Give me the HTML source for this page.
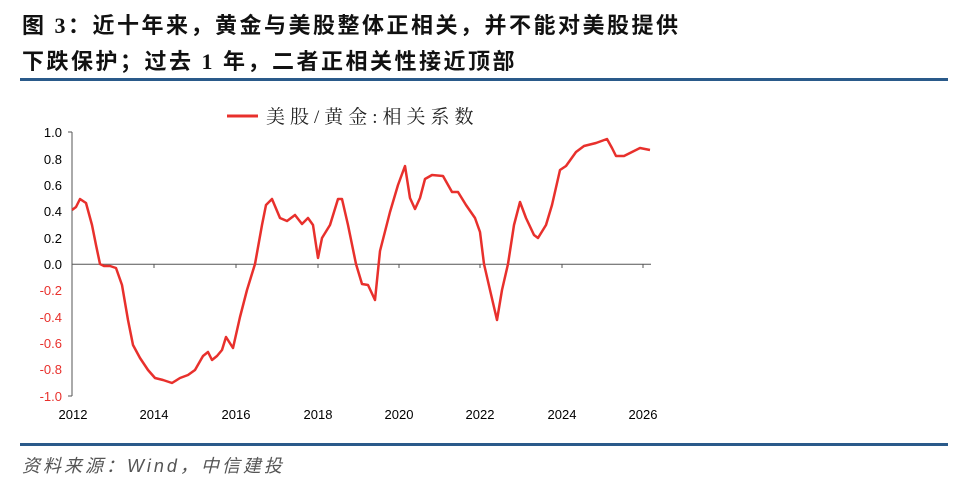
<!DOCTYPE html>
<html><head><meta charset="utf-8"><style>
body{margin:0;width:980px;height:500px;background:#fff;overflow:hidden;font-family:"Liberation Sans","Noto Sans CJK SC",sans-serif;}
.t{position:absolute;left:22px;font-size:22px;letter-spacing:2.5px;font-weight:bold;color:#111;font-family:"Liberation Serif","Noto Sans CJK SC",sans-serif;}
</style></head><body>
<div class="t" style="top:8px">图 3：近十年来，黄金与美股整体正相关，并不能对美股提供</div>
<div class="t" style="top:44px">下跌保护；过去 1 年，二者正相关性接近顶部</div>
<div style="position:absolute;left:20px;top:78px;width:928px;height:3px;background:#2a5a8a"></div>
<div style="position:absolute;left:20px;top:443px;width:928px;height:3px;background:#2a5a8a"></div>
<div style="position:absolute;left:22px;top:452px;font-size:18px;letter-spacing:3px;font-style:italic;color:#555">资料来源：Wind，中信建投</div>
<svg width="980" height="500" style="position:absolute;left:0;top:0" font-family="Liberation Sans, sans-serif">
<line x1="227" y1="116" x2="258" y2="116" stroke="#e8302c" stroke-width="3"/>
<text x="266" y="123" font-size="19" fill="#222" font-family="Liberation Serif, Noto Serif CJK SC, serif" letter-spacing="5">美股/黄金:相关系数</text>
<g font-size="13" text-anchor="end">
<text x="62" y="137">1.0</text><text x="62" y="164">0.8</text><text x="62" y="190">0.6</text><text x="62" y="216">0.4</text><text x="62" y="243">0.2</text><text x="62" y="269">0.0</text>
<g fill="#e8302c"><text x="62" y="295">-0.2</text><text x="62" y="322">-0.4</text><text x="62" y="348">-0.6</text><text x="62" y="374">-0.8</text><text x="62" y="401">-1.0</text></g>
</g>
<g stroke="#555" stroke-width="1">
<line x1="72" y1="132" x2="72" y2="396"/>
<line x1="68" y1="132" x2="72" y2="132"/><line x1="68" y1="396" x2="72" y2="396"/>
<line x1="72" y1="264.3" x2="651" y2="264.3"/>
<line x1="154" y1="264" x2="154" y2="268"/><line x1="236" y1="264" x2="236" y2="268"/><line x1="318" y1="264" x2="318" y2="268"/><line x1="399" y1="264" x2="399" y2="268"/><line x1="480" y1="264" x2="480" y2="268"/><line x1="562" y1="264" x2="562" y2="268"/><line x1="643" y1="264" x2="643" y2="268"/>
</g>
<g font-size="13" text-anchor="middle">
<text x="73" y="419">2012</text><text x="154" y="419">2014</text><text x="236" y="419">2016</text><text x="318" y="419">2018</text><text x="399" y="419">2020</text><text x="480" y="419">2022</text><text x="562" y="419">2024</text><text x="643" y="419">2026</text>
</g>
<polyline fill="none" stroke="#e8302c" stroke-width="2.5" stroke-linejoin="round" points="72,210 76,207 80,199 86,203 92,225 96,245 100,264 104,266 110,266 116,268 122,285 128,320 133,345 140,358 148,370 155,378 163,380 172,383 180,378 188,375 195,370 203,356 208,352 212,360 217,356 222,350 226,337 233,348 240,317 247,290 255,264 262,225 266,205 272,199 280,218 287,221 295,215 302,224 308,218 313,225 318,258 322,238 330,225 338,199 342,199 348,225 356,264 362,284 368,285 375,300 380,251 390,212 398,185 405,166 410,198 415,209 420,198 425,179 432,175 443,176 452,192 458,192 466,205 475,218 480,232 484,264 490,290 497,320 502,290 508,264 514,225 520,202 526,218 534,235 538,238 546,225 552,205 560,170 566,166 576,152 584,146 596,143 607,139 612,148 616,156 624,156 632,152 640,148 650,150"/>
</svg>
</body></html>
